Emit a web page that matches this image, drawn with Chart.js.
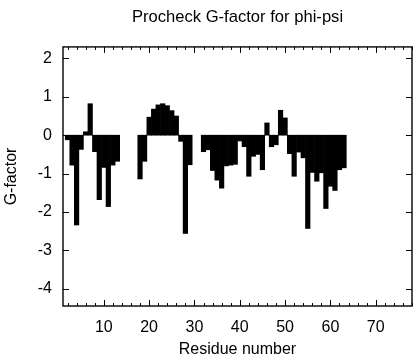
<!DOCTYPE html>
<html>
<head>
<meta charset="utf-8">
<script src="https://cdn.jsdelivr.net/npm/chart.js@4"></script>
<style>
  body { margin: 0; background: #fff; }
</style>
</head>
<body>
<canvas id="gfactor-chart" width="416" height="360"></canvas>
<script>
// residue numbers and their phi-psi G-factor (null = no value)
const residues = [
  2, 3, 4, 5, 6, 7, 8, 9, 10, 11, 12, 13, 14, 15, 16, 17, 18, 19, 20, 21,
  22, 23, 24, 25, 26, 27, 28, 29, 30, 31, 32, 33, 34, 35, 36, 37, 38, 39, 40, 41,
  42, 43, 44, 45, 46, 47, 48, 49, 50, 51, 52, 53, 54, 55, 56, 57, 58, 59, 60, 61,
  62, 63,
];
const gFactor = [
  -0.12, -0.78, -2.34, -0.37, 0.09, 0.82, -0.43, -1.68, -0.84, -1.86, -0.78, -0.68, null, null, null, null, -1.14, -0.68, 0.47, 0.68,
  0.79, 0.82, 0.77, 0.64, 0.5, -0.16, -2.56, -0.77, null, null, -0.43, -0.38, -0.92, -1.17, -1.38, -0.8, -0.78, -0.76, -0.15, -0.3,
  -1.07, -0.55, -0.5, -0.9, 0.32, -0.3, -0.25, 0.65, 0.45, -0.48, -1.07, -0.44, -0.59, -2.43, -0.97, -1.2, -0.98, -1.91, -1.33, -1.44,
  -0.9, -0.85,
];
const xTickStep = 10;
const xMinorStep = 2;
const yTickStep = 1;

Chart.defaults.font.family = "'Liberation Sans', Arial, sans-serif";
Chart.defaults.color = "#000";

// box round the plot with inward ticks on all four sides
const frameTicks = {
  id: "frameTicks",
  afterDatasetsDraw(chart) {
    const { ctx, chartArea: a, scales } = chart;
    const x = scales.x;
    const y = scales.y;
    ctx.save();
    ctx.strokeStyle = "#000";
    ctx.lineWidth = 1.4;
    ctx.strokeRect(a.left, a.top, a.right - a.left, a.bottom - a.top);
    ctx.lineWidth = 1;
    ctx.beginPath();
    for (let v = xMinorStep; v <= x.max; v += xMinorStep) {
      const px = Math.round(x.getPixelForValue(v)) + 0.5;
      const len = v % xTickStep === 0 ? 6 : 3;
      ctx.moveTo(px, a.bottom);
      ctx.lineTo(px, a.bottom - len);
      ctx.moveTo(px, a.top);
      ctx.lineTo(px, a.top + len);
    }
    for (let v = Math.ceil(y.min); v <= y.max; v += yTickStep) {
      const py = Math.round(y.getPixelForValue(v)) + 0.5;
      ctx.moveTo(a.left, py);
      ctx.lineTo(a.left + 6, py);
      ctx.moveTo(a.right, py);
      ctx.lineTo(a.right - 6, py);
    }
    ctx.stroke();
    ctx.restore();
  },
};

new Chart(document.getElementById("gfactor-chart"), {
  type: "bar",
  data: {
    datasets: [
      {
        data: residues.map((r, i) => ({ x: r, y: gFactor[i] })),
        backgroundColor: "#000",
        borderWidth: 0,
        barPercentage: 1,
        categoryPercentage: 1,
      },
    ],
  },
  plugins: [frameTicks],
  options: {
    responsive: false,
    animation: false,
    layout: { padding: { top: 0, right: 4, bottom: 0, left: 0 } },
    plugins: {
      legend: { display: false },
      tooltip: { enabled: false },
      title: {
        display: true,
        fullSize: false,
        text: "Procheck G-factor for phi-psi",
        font: { size: 16.6, weight: "normal" },
        padding: { top: 7, bottom: 20 },
      },
    },
    scales: {
      x: {
        type: "linear",
        offset: false,
        min: 1,
        max: 78,
        grid: { display: false, drawTicks: false, offset: false },
        border: { display: false },
        ticks: {
          stepSize: xTickStep,
          includeBounds: false,
          maxRotation: 0,
          padding: 12,
          font: { size: 16 },
        },
        title: {
          display: true,
          text: "Residue number",
          font: { size: 16 },
          padding: { top: 0, bottom: 1 },
        },
        afterFit: (s) => { s.height = 54; },
      },
      y: {
        min: -4.45,
        max: 2.3,
        grid: { display: false, drawTicks: false },
        border: { display: false },
        ticks: {
          stepSize: yTickStep,
          includeBounds: false,
          padding: 11,
          font: { size: 16 },
        },
        title: {
          display: true,
          text: "G-factor",
          font: { size: 16 },
          padding: { top: 2, bottom: 0 },
        },
        afterFit: (s) => { s.width = 63; },
      },
    },
  },
});
</script>
</body>
</html>
